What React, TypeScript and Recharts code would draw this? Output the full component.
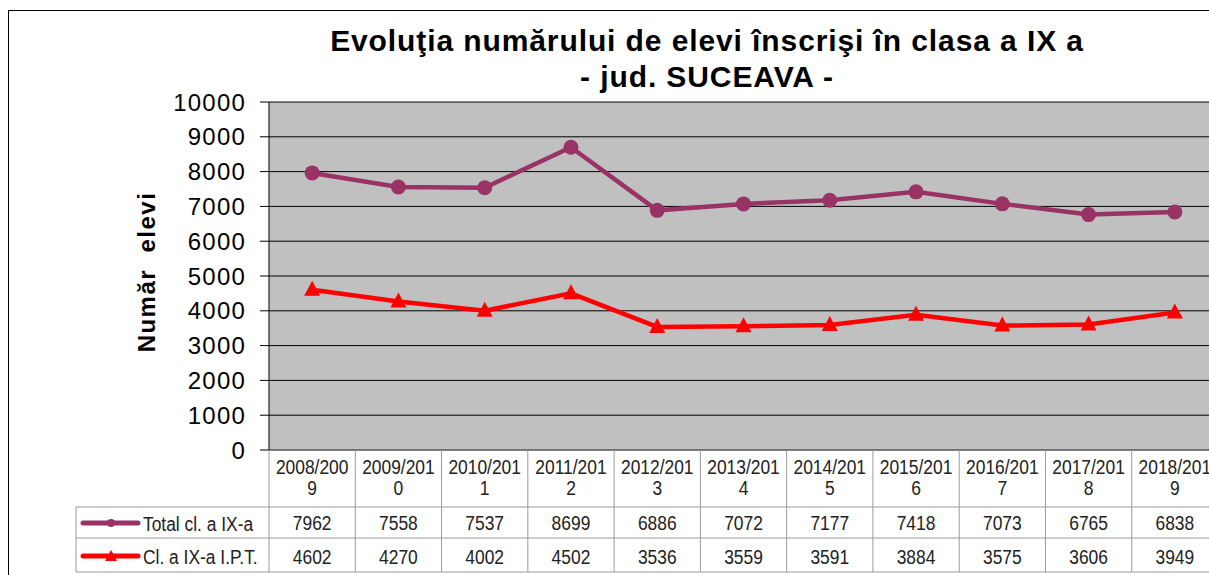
import { LineChart, Line, XAxis, YAxis, CartesianGrid } from 'recharts';

const YEARS = [
  '2008/2009', '2009/2010', '2010/2011', '2011/2012', '2012/2013', '2013/2014',
  '2014/2015', '2015/2016', '2016/2017', '2017/2018', '2018/2019',
];
const TOTAL = [7962, 7558, 7537, 8699, 6886, 7072, 7177, 7418, 7073, 6765, 6838];
const IPT = [4602, 4270, 4002, 4502, 3536, 3559, 3591, 3884, 3575, 3606, 3949];
const Y_TICKS = [0, 1000, 2000, 3000, 4000, 5000, 6000, 7000, 8000, 9000, 10000];

const SERIES = [
  { key: 'total', name: 'Total cl. a IX-a', color: '#993366', values: TOTAL },
  { key: 'ipt', name: 'Cl. a IX-a I.P.T.', color: '#FF0000', values: IPT },
];

const data = YEARS.map((y, i) => ({ year: y, total: TOTAL[i], ipt: IPT[i] }));

const COL_W = 86.3;
const GRID = '#9a9a9a';
const FONT = "'Liberation Sans', Arial, sans-serif";

// narrow table text, like the Excel data table
function Cell({ x, y, anchor = 'middle', children }: any) {
  return (
    <text
      transform={`translate(${x} ${y}) scale(0.87 1)`}
      textAnchor={anchor}
      fontFamily={FONT}
      fontSize={20}
      fill="#222"
    >
      {children}
    </text>
  );
}

function Triangle(props: any) {
  const { cx, cy, fill } = props;
  if (cx == null || cy == null) return null;
  return <path d={`M${cx},${cy - 9} L${cx + 8},${cy + 6} L${cx - 8},${cy + 6} Z`} fill={fill} />;
}

function TableTick(props: any) {
  const { x, y, index, payload } = props;
  const label: string = payload.value;
  const l = x - COL_W / 2;
  const r = x + COL_W / 2;
  return (
    <g>
      <line x1={r} y1={y} x2={r} y2={y + 122} stroke={GRID} />
      {index === 0 && <line x1={l} y1={y} x2={l} y2={y + 122} stroke={GRID} />}
      <line x1={l} y1={y + 57} x2={r} y2={y + 57} stroke={GRID} />
      <line x1={l} y1={y + 88} x2={r} y2={y + 88} stroke={GRID} />
      <line x1={l} y1={y + 122} x2={r} y2={y + 122} stroke={GRID} />
      <Cell x={x} y={y + 24}>{label.slice(0, 8)}</Cell>
      <Cell x={x} y={y + 45}>{label.slice(8)}</Cell>
      <Cell x={x} y={y + 80}>{TOTAL[index]}</Cell>
      <Cell x={x} y={y + 114}>{IPT[index]}</Cell>
      {index === 0 && (
        <g>
          <line x1={l - 193} y1={y + 57} x2={l} y2={y + 57} stroke={GRID} />
          <line x1={l - 193} y1={y + 88} x2={l} y2={y + 88} stroke={GRID} />
          <line x1={l - 193} y1={y + 122} x2={l} y2={y + 122} stroke={GRID} />
          <line x1={l - 193} y1={y + 57} x2={l - 193} y2={y + 122} stroke={GRID} />
          {SERIES.map((s, k) => {
            const cy = y + 73 + k * 33;
            return (
              <g key={s.key}>
                <line x1={l - 186} y1={cy} x2={l - 131} y2={cy} stroke={s.color} strokeWidth={5} strokeLinecap="round" />
                {k === 0 ? (
                  <circle cx={l - 158} cy={cy} r={4} fill={s.color} />
                ) : (
                  <path d={`M${l - 158},${cy - 6} L${l - 152},${cy + 5} L${l - 164},${cy + 5} Z`} fill={s.color} />
                )}
                <Cell x={l - 126} y={cy + 8} anchor="start">{s.name}</Cell>
              </g>
            );
          })}
        </g>
      )}
    </g>
  );
}

export default function App() {
  return (
    <div style={{ position: 'fixed', inset: 0, overflow: 'hidden', background: '#fff' }}>
      <div style={{ position: 'absolute', left: 8, top: 10, width: 1230, height: 620, border: '1px solid #000' }} />
      <div
        style={{
          position: 'absolute', left: 257, width: 900, top: 23, textAlign: 'center',
          fontFamily: FONT, fontWeight: 'bold', fontSize: 30, letterSpacing: 0.9, lineHeight: '36px', color: '#000',
        }}
      >
        <div>Evoluţia numărului de elevi înscrişi în clasa a IX a</div>
        <div>- jud. SUCEAVA -</div>
      </div>
      <div
        style={{
          position: 'absolute', left: 147, top: 272, transform: 'translate(-50%, -50%) rotate(-90deg)',
          whiteSpace: 'pre', fontFamily: FONT, fontWeight: 'bold', fontSize: 24, letterSpacing: 1.5, color: '#000',
        }}
      >
        Număr  elevi
      </div>
      <div style={{ position: 'absolute', left: 0, top: 0 }}>
        <LineChart width={1230} height={575} data={data} margin={{ top: 102, right: 12, bottom: 0, left: 189 }}>
          <CartesianGrid vertical={false} stroke="#000" fill="#C0C0C0" fillOpacity={1} />
          <XAxis
            dataKey="year"
            height={125}
            padding={{ left: COL_W / 2, right: COL_W / 2 }}
            axisLine={{ stroke: '#808080' }}
            tickLine={false}
            tickSize={0}
            tickMargin={0}
            interval={0}
            tick={<TableTick />}
          />
          <YAxis
            width={80}
            domain={[0, 10000]}
            ticks={Y_TICKS}
            interval={0}
            axisLine={{ stroke: '#000' }}
            tickLine={{ stroke: '#000' }}
            tickSize={9}
            tickMargin={14}
            tick={{ fill: '#000', fontSize: 24, letterSpacing: 1.2, fontFamily: FONT }}
          />
          <Line
            dataKey="total"
            stroke={SERIES[0].color}
            strokeWidth={4.5}
            dot={{ r: 7.5, fill: SERIES[0].color, stroke: 'none' }}
            isAnimationActive={false}
          />
          <Line
            dataKey="ipt"
            stroke={SERIES[1].color}
            strokeWidth={4.5}
            dot={<Triangle fill={SERIES[1].color} />}
            isAnimationActive={false}
          />
        </LineChart>
      </div>
    </div>
  );
}
